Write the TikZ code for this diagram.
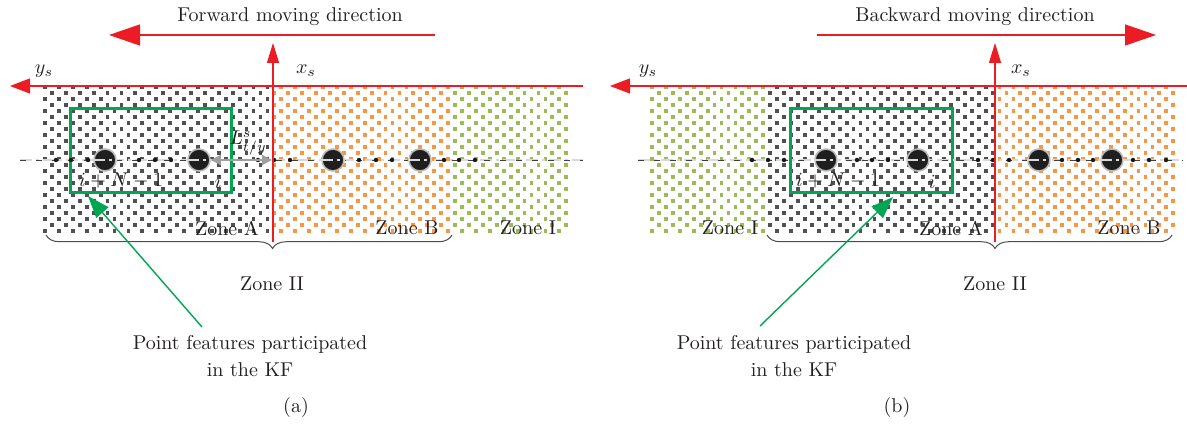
\documentclass[tikz,border=0pt]{standalone}
\usetikzlibrary{arrows.meta,decorations.pathreplacing,calc}
\definecolor{zred}{RGB}{237,28,36}
\definecolor{zgreen}{RGB}{0,166,81}
\definecolor{dkgray}{RGB}{80,80,80}
\definecolor{zorange}{RGB}{247,150,70}
\definecolor{zolive}{RGB}{155,187,89}
\definecolor{ztext}{RGB}{35,31,32}
\newcommand\dotgrid[4]{%
  \foreach \k in {#2,...,#3}{%
    \foreach \r in {0,...,24}{%
      \pgfmathtruncatemacro\pp{mod(\k+\r,2)}%
      \ifnum\pp=0 \fill[#4] ({#1+\k*6.95-1.9},{87+\r*6-1.9}) rectangle ++(3.8,3.8);\fi
    }}}
\begin{document}
\begin{tikzpicture}[x=0.5pt,y=-0.5pt,
  font=\fontsize{10}{13.5}\selectfont, text=ztext,
  redline/.style={draw=zred, line width=0.6pt},
  bigtip/.style={-{Triangle[length=15.5pt,width=10.5pt]}},
  axtip/.style={-{Triangle[length=10pt,width=7.5pt]}},
  uptip/.style={-{Triangle[length=10pt,width=6pt]}},
  kfbox/.style={draw=zgreen, line width=1.5pt, inner sep=0pt},
  garrow/.style={draw=zgreen, line width=0.7pt, -{Triangle[length=11pt,width=8pt]}},
  lenarrow/.style={draw=gray!75, line width=1pt, {Triangle[length=5pt,width=5pt]}-{Triangle[length=5pt,width=5pt]}},
  cline/.style={draw=gray!30, line width=1.2pt, dash pattern=on 6pt off 2pt on 1.5pt off 2pt},
  dline/.style={draw=black!75, line width=0.4pt, dash pattern=on 3pt off 5pt},
  feat/.style={circle, fill=black!88, draw=gray!55, line width=0.8pt, minimum size=11pt, inner sep=0pt},
  sdot/.style={fill=black!90},
  bracestyle/.style={draw=black!70, line width=0.5pt, decorate, decoration={brace, mirror, amplitude=6.75pt, aspect=#1}},
  lbl/.style={inner sep=1pt}
]
\useasboundingbox (0,0) rectangle (1187,426);

% ================= Panel (a) =================
\dotgrid{45}{0}{32}{dkgray}
\dotgrid{45}{33}{58}{zorange}
\dotgrid{45}{59}{75}{zolive}

\node[kfbox, minimum width=80.5pt, minimum height=42pt] (boxA) at (150.5,151) {};

\coordinate (clA1) at (20,160);
\coordinate (clA2) at (583,160);
\draw[cline] (clA1) -- (clA2);
\draw[dline] (clA1) -- (clA2);
\foreach \x in {56,71,88,139,155,171,258,274,290,359,376,392,444,459,475}
  \fill[sdot] (\x,160) circle (2.2);
\node[feat] (fA1) at (105,160) {};
\node[feat] (fA2) at (199,160) {};
\node[feat] (fA3) at (333,160) {};
\node[feat] (fA4) at (420,160) {};
\draw[cline] (fA1.west) -- (fA1.east);
\draw[cline] (fA2.west) -- (fA2.east);
\draw[cline] (fA3.west) -- (fA3.east);
\draw[cline] (fA4.west) -- (fA4.east);

\coordinate (ysA2) at (583,86);
\coordinate (ysA1) at (10,86);
\draw[redline, axtip] (ysA2) -- (ysA1);
\coordinate (xsAb) at (273,242);
\coordinate (xsAt) at (273,43);
\draw[redline, uptip] (xsAb) -- (xsAt);
\coordinate (fwA1) at (435,35);
\coordinate (fwA2) at (109,35);
\draw[redline, bigtip] (fwA1) -- (fwA2);
\node[lbl] (fwtxt) at (290,17) {Forward moving direction};
\node[lbl] (ysAl) at (44,71) {$y_s$};
\node[lbl] (xsAl) at (306,71) {$x_s$};

\coordinate (lenA) at (272,160);
\draw[lenarrow] (fA2.east) -- (lenA);
\node[lbl] (LA) at (248,143) {$L^{s}_{t/y}$};
\node[lbl] (iNA) at (121,181) {$i+N-1$};
\node[lbl] (iA) at (218,182) {$i$};

\node[lbl] (zAa) at (227,228) {Zone A};
\node[lbl] (zBa) at (407,228) {Zone B};
\node[lbl] (zIa) at (528,228) {Zone I};
\coordinate (brA1) at (46,235);
\coordinate (brA2) at (452,235);
\draw[bracestyle=0.558] (brA1) -- (brA2);
\node[lbl] (zIIa) at (272,284) {Zone II};

\node[lbl, align=center] (ptA) at (250,356) {Point features participated\\in the KF};
\coordinate (gA1) at (202,327);
\coordinate (gA2) at (88,196);
\draw[garrow] (gA1) -- (gA2);
\node[lbl] (capA) at (296,408) {(a)};

% ================= Panel (b) =================
\dotgrid{652}{0}{16}{zolive}
\dotgrid{652}{17}{49}{dkgray}
\dotgrid{652}{50}{75}{zorange}

\node[kfbox, minimum width=81pt, minimum height=42pt] (boxB) at (871,151) {};

\coordinate (clB1) at (638,160);
\coordinate (clB2) at (1183,160);
\draw[cline] (clB1) -- (clB2);
\draw[dline] (clB1) -- (clB2);
\foreach \x in {752,768,784,857,872,888,978,993,1009,1062,1078,1093,1133,1149,1166}
  \fill[sdot] (\x,160) circle (2.2);
\node[feat] (fB1) at (826,160) {};
\node[feat] (fB2) at (918,160) {};
\node[feat] (fB3) at (1039,160) {};
\node[feat] (fB4) at (1112,160) {};
\draw[cline] (fB1.west) -- (fB1.east);
\draw[cline] (fB2.west) -- (fB2.east);
\draw[cline] (fB3.west) -- (fB3.east);
\draw[cline] (fB4.west) -- (fB4.east);

\coordinate (ysB2) at (1187,86);
\coordinate (ysB1) at (610,86);
\draw[redline, axtip] (ysB2) -- (ysB1);
\coordinate (xsBb) at (995,242);
\coordinate (xsBt) at (995,43);
\draw[redline, uptip] (xsBb) -- (xsBt);
\coordinate (bwB1) at (817,35);
\coordinate (bwB2) at (1156,35);
\draw[redline, bigtip] (bwB1) -- (bwB2);
\node[lbl] (bwtxt) at (975,17) {Backward moving direction};
\node[lbl] (ysBl) at (648,71) {$y_s$};
\node[lbl] (xsBl) at (1021,71) {$x_s$};

\node[lbl] (iNB) at (838,181) {$i+N-1$};
\node[lbl] (iB) at (932,182) {$i$};

\node[lbl] (zIb) at (730,228) {Zone I};
\node[lbl] (zAb) at (951,228) {Zone A};
\node[lbl] (zBb) at (1129,228) {Zone B};
\coordinate (brB1) at (767,235);
\coordinate (brB2) at (1172,235);
\draw[bracestyle=0.563] (brB1) -- (brB2);
\node[lbl] (zIIb) at (995,284) {Zone II};

\node[lbl, align=center] (ptB) at (794,356) {Point features participated\\in the KF};
\coordinate (gB1) at (760,326);
\coordinate (gB2) at (893,197);
\draw[garrow] (gB1) -- (gB2);
\node[lbl] (capB) at (897,408) {(b)};
\end{tikzpicture}
\end{document}
